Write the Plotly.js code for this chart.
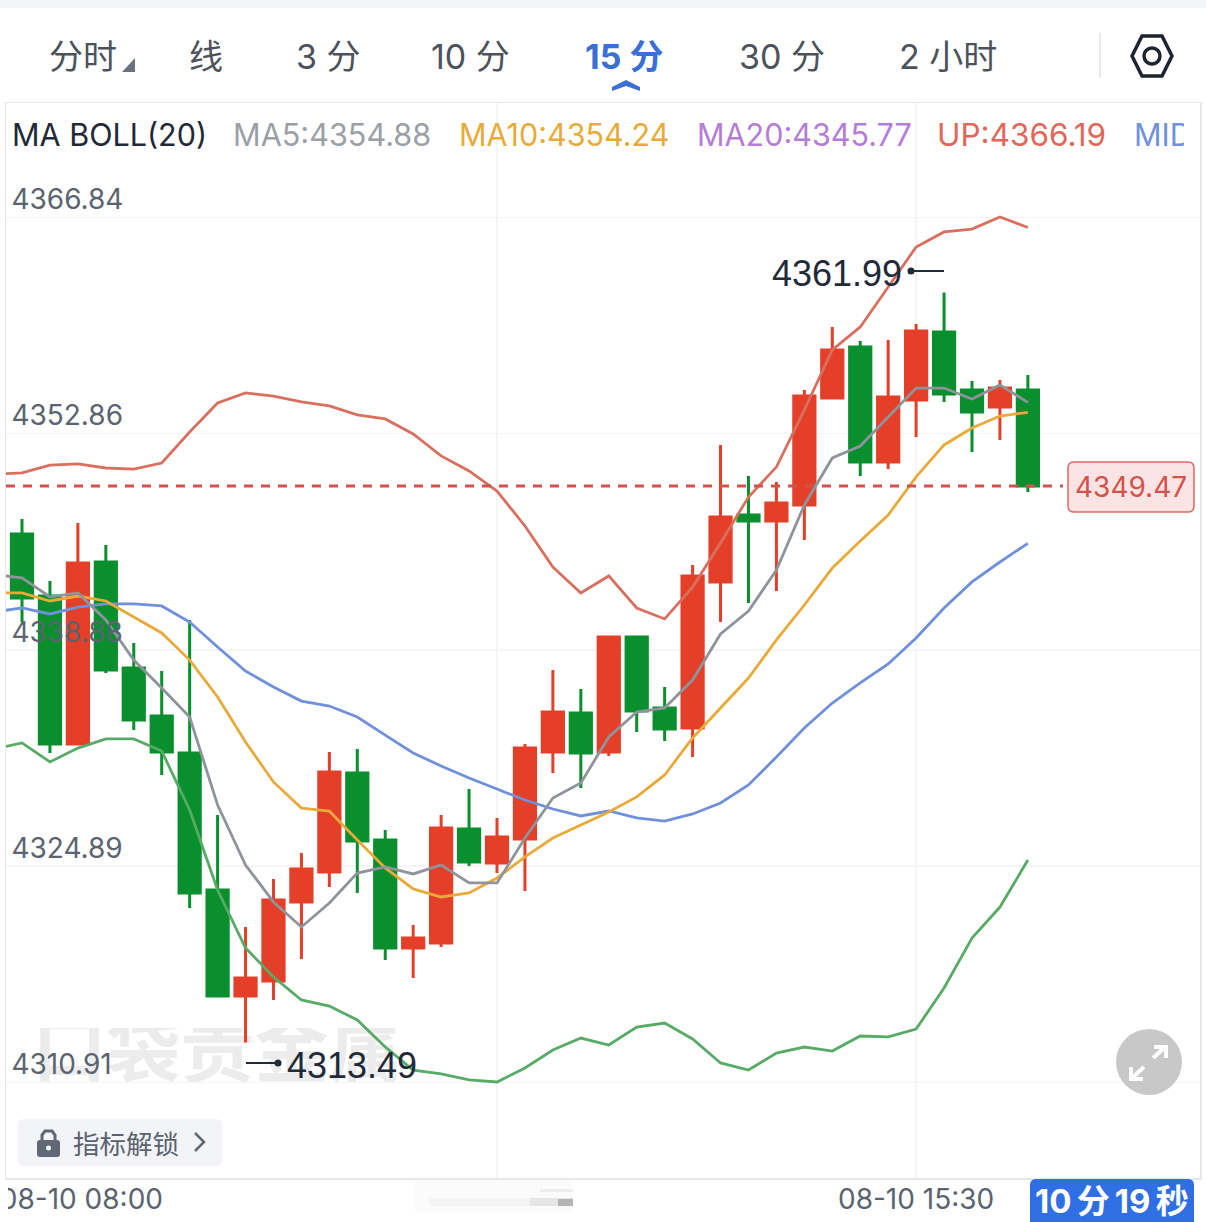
<!DOCTYPE html>
<html>
<head>
<meta charset="utf-8">
<script src="https://cdn.plot.ly/plotly-3.0.1.min.js"></script>
<style>
  html, body { margin: 0; padding: 0; background: #fff; overflow: hidden; }
  #chart { width: 1206px; height: 1222px; }
</style>
</head>
<body>
<div id="chart"></div>
<script>
// 15 minute bars, first entry only feeds the indicator lines
const times = ['08-10 07:15','08-10 07:30','08-10 07:45','08-10 08:00','08-10 08:15','08-10 08:30','08-10 08:45','08-10 09:00','08-10 09:15','08-10 09:30','08-10 09:45','08-10 10:00','08-10 10:15','08-10 10:30','08-10 10:45','08-10 11:00','08-10 11:15','08-10 11:30','08-10 11:45','08-10 12:00','08-10 12:15','08-10 12:30','08-10 12:45','08-10 13:00','08-10 13:15','08-10 13:30','08-10 13:45','08-10 14:00','08-10 14:15','08-10 14:30','08-10 14:45','08-10 15:00','08-10 15:15','08-10 15:30','08-10 15:45','08-10 16:00','08-10 16:15','08-10 16:30'];

const open = [4346.37,4342.36,4332.79,4344.56,4337.71,4334.60,4332.21,4323.35,4316.50,4317.47,4322.58,4324.52,4330.92,4326.59,4319.60,4319.93,4327.30,4325.10,4326.65,4332.28,4334.80,4332.28,4339.71,4335.12,4333.83,4343.27,4347.60,4347.21,4348.25,4355.17,4358.46,4351.03,4355.04,4359.43,4355.68,4354.58,4355.68];
const high = [4347.34,4343.33,4347.08,4345.66,4339.32,4337.51,4340.81,4328.20,4320.96,4324.06,4325.75,4332.28,4332.47,4327.23,4321.09,4328.20,4329.88,4328.01,4332.79,4337.58,4336.35,4339.71,4339.78,4336.48,4344.37,4352.13,4350.12,4349.73,4355.68,4359.76,4358.85,4358.92,4359.95,4361.99,4356.26,4356.33,4356.65];
const low = [4340.68,4332.21,4332.79,4337.38,4333.70,4330.79,4322.19,4316.50,4313.49,4316.24,4318.89,4323.55,4323.16,4318.83,4317.66,4319.67,4324.90,4324.45,4323.29,4330.92,4329.95,4332.02,4333.57,4332.99,4331.95,4340.68,4341.91,4342.69,4345.98,4355.10,4350.12,4350.57,4352.64,4354.91,4351.67,4352.45,4349.09];
const close = [4342.23,4332.79,4344.50,4337.58,4334.34,4332.28,4323.16,4316.50,4317.66,4322.71,4324.71,4330.98,4326.52,4319.60,4320.25,4327.36,4325.16,4326.78,4332.53,4334.86,4332.21,4339.71,4334.93,4333.76,4343.66,4347.47,4347.21,4348.38,4355.29,4358.27,4351.03,4355.23,4359.50,4355.42,4354.26,4355.81,4349.47];

const ma5 = [4343.75,4343.53,4342.30,4342.56,4340.81,4338.22,4336.41,4334.54,4328.85,4324.97,4322.58,4320.96,4322.51,4324.45,4324.84,4324.39,4324.97,4323.81,4323.81,4326.71,4329.30,4330.27,4333.25,4334.86,4335.12,4336.93,4339.91,4341.39,4344.04,4348.25,4351.29,4352.06,4353.94,4355.81,4355.81,4355.10,4356.01,4354.88];
const ma10 = [4342.56,4342.56,4342.04,4342.36,4342.04,4341.00,4339.97,4338.22,4335.83,4332.92,4330.34,4328.65,4328.46,4326.59,4324.78,4323.42,4322.90,4323.16,4324.13,4325.49,4326.71,4327.56,4328.40,4329.37,4330.79,4333.18,4335.12,4337.06,4339.52,4341.78,4344.17,4345.92,4347.60,4350.06,4352.13,4353.23,4354.00,4354.24];
const ma20 = [4341.33,4341.59,4341.20,4341.65,4341.85,4341.85,4341.72,4340.68,4339.06,4337.51,4336.48,4335.57,4335.25,4334.54,4333.37,4332.21,4331.37,4330.59,4329.88,4329.17,4328.59,4328.14,4328.46,4328.01,4327.81,4328.27,4328.98,4330.14,4331.95,4333.83,4335.44,4336.74,4337.97,4339.65,4341.59,4343.27,4344.56,4345.77];
const up = [4350.25,4350.32,4350.83,4350.90,4350.64,4350.57,4350.96,4352.97,4354.84,4355.49,4355.29,4354.91,4354.65,4354.07,4353.81,4352.84,4351.42,4350.45,4349.15,4346.89,4344.24,4342.56,4343.66,4341.59,4340.88,4342.94,4345.79,4348.76,4350.70,4354.39,4358.27,4359.76,4362.34,4364.93,4365.90,4366.09,4366.87,4366.19];
const dn = [4332.47,4332.86,4331.63,4332.53,4333.12,4333.12,4332.34,4328.53,4323.35,4319.60,4317.73,4316.24,4315.85,4314.95,4313.20,4311.71,4311.46,4311.07,4310.94,4311.84,4313.01,4313.78,4313.33,4314.49,4314.75,4313.72,4312.17,4311.71,4312.81,4313.20,4312.94,4313.91,4313.85,4314.36,4317.02,4320.25,4322.25,4325.29];

const priceTicks = [4310.91,4324.89,4338.88,4352.86,4366.84];
const timeTicks = ['08-10 08:00','08-10 11:45','08-10 15:30'];
const lastPrice = 4349.47;
const tabs = ['分时','线','3 分','10 分','15 分','30 分','2 小时'];
const tabCenters = [83,206,328,470,624,782,948];

const W = 1206, H = 1222;
const L = 6, R = 1200, T = 103, B = 1178;
const FONT = 'Inter, "Noto Sans CJK SC", sans-serif';
const CJK = '"Noto Sans CJK SC", sans-serif';
const ARIAL = '"Liberation Sans", sans-serif';
const BLUE = '#3b6fd8';

const px = (x) => (x - L) / (R - L);
const py = (y) => (B - y) / (B - T);

// text placed by page pixel
const label = (text, x, y, size, color, extra) => Object.assign({
  text, x: px(x), y: py(y), xref: 'paper', yref: 'paper',
  xanchor: 'left', yanchor: 'middle', showarrow: false,
  font: { family: FONT, size, color },
}, extra);

const poly = (pts, closed) =>
  pts.map((p, i) => (i ? 'L' : 'M') + px(p[0]) + ',' + py(p[1])).join(' ') + (closed ? ' Z' : '');

const roundRect = (x0, y0, x1, y1, r) => [
  'M', px(x0 + r), py(y0),
  'L', px(x1 - r), py(y0), 'Q', px(x1), py(y0), px(x1), py(y0 + r),
  'L', px(x1), py(y1 - r), 'Q', px(x1), py(y1), px(x1 - r), py(y1),
  'L', px(x0 + r), py(y1), 'Q', px(x0), py(y1), px(x0), py(y1 - r),
  'L', px(x0), py(y0 + r), 'Q', px(x0), py(y0), px(x0 + r), py(y0), 'Z',
].join(' ');

const pathShape = (path, fill, stroke, width, layer) => ({
  type: 'path', xref: 'paper', yref: 'paper', path,
  fillcolor: fill || 'rgba(0,0,0,0)',
  line: { color: stroke || 'rgba(0,0,0,0)', width: width || 0 },
  layer: layer || 'above',
});

const rectShape = (x0, y0, x1, y1, fill, layer) => ({
  type: 'rect', xref: 'paper', yref: 'paper',
  x0: px(x0), x1: px(x1), y0: py(y0), y1: py(y1),
  fillcolor: fill, line: { width: 0 }, layer: layer || 'above',
});

const circleShape = (cx, cy, r, fill, stroke, width) => ({
  type: 'circle', xref: 'paper', yref: 'paper',
  x0: px(cx - r), x1: px(cx + r), y0: py(cy + r), y1: py(cy - r),
  fillcolor: fill, line: { color: stroke || 'rgba(0,0,0,0)', width: width || 0 }, layer: 'above',
});

const lineShape = (x0, y0, x1, y1, color, width) => ({
  type: 'line', xref: 'paper', yref: 'paper',
  x0: px(x0), x1: px(x1), y0: py(y0), y1: py(y1),
  line: { color, width }, layer: 'above',
});

const lineTrace = (y, color) => ({
  x: times, y, type: 'scatter', mode: 'lines',
  line: { color, width: 2.8 }, hoverinfo: 'skip',
});

const traces = [
  {
    type: 'candlestick',
    x: times.slice(1),
    open, high, low, close,
    increasing: { line: { color: '#e43f28', width: 3 }, fillcolor: '#e43f28' },
    decreasing: { line: { color: '#0a8f2f', width: 3 }, fillcolor: '#0a8f2f' },
    hoverinfo: 'skip',
  },
  lineTrace(up, '#d9705f'),
  lineTrace(dn, '#58ab66'),
  lineTrace(ma20, '#7090dc'),
  lineTrace(ma10, '#e9aa3a'),
  lineTrace(ma5, '#8f949c'),
];

const shapes = [
  // watermark sits under the candles, top and bottom of the glyphs are cut off
  {
    type: 'rect', xref: 'paper', yref: 'paper', layer: 'below',
    x0: px(30), x1: px(405), y0: py(1090), y1: py(1020), line: { width: 0 }, fillcolor: 'rgba(0,0,0,0)',
    label: { text: '口袋贵金属', textposition: 'middle center', font: { family: CJK, size: 74, color: '#ececed', weight: 700 } },
  },
  rectShape(25, 1000, 410, 1028, '#ffffff', 'below'),
  rectShape(25, 1082, 410, 1105, '#ffffff', 'below'),
  rectShape(0, 0, W, 8, '#f4f5f9'),
  // last price
  {
    type: 'line', xref: 'paper', yref: 'y', x0: 0, x1: px(1063), y0: lastPrice, y1: lastPrice,
    line: { color: '#d4524c', width: 3, dash: '9px,8px' }, layer: 'above',
  },
  pathShape(roundRect(1068, 462, 1194, 512, 6), '#fbe4e3', '#dd6a66', 1.5),
  // high and low markers
  lineShape(911, 271, 944, 271, '#1f2a3a', 2),
  circleShape(911, 271, 3.5, '#1f2a3a'),
  lineShape(246, 1063, 278, 1063, '#1f2a3a', 2),
  circleShape(278, 1063, 3.5, '#1f2a3a'),
  // toolbar bits
  pathShape(poly([[135, 58], [135, 72], [122, 72]], true), '#6b7280'),
  pathShape(poly([[612, 87], [626, 80], [640, 87], [640, 91], [626, 86], [612, 91]], true), BLUE),
  lineShape(1100, 33, 1100, 78, '#e9eaed', 2),
  pathShape(poly([[1142, 36], [1162, 36], [1172, 56], [1162, 76], [1142, 76], [1132, 56]], true), null, '#1d2430', 3.5),
  circleShape(1152, 56, 8, 'rgba(0,0,0,0)', '#1d2430', 3.5),
  // lock button
  pathShape(roundRect(18, 1119, 222, 1166, 6), '#f3f4f7'),
  pathShape(roundRect(37, 1140, 60, 1157, 3), '#5f6874'),
  pathShape(poly([[42, 1141], [42, 1135], [45, 1131], [52, 1131], [55, 1135], [55, 1141]]), null, '#5f6874', 3),
  circleShape(48.5, 1148, 2.5, '#f3f4f7'),
  pathShape(poly([[195, 1133], [204, 1142], [195, 1151]]), null, '#5f6874', 2.5),
  // fullscreen button
  circleShape(1149, 1062, 33, '#c8c8c8'),
  pathShape(poly([[1153, 1058], [1165, 1047]]), null, '#ffffff', 4),
  pathShape(poly([[1154, 1047], [1166, 1047], [1166, 1058]]), null, '#ffffff', 4),
  pathShape(poly([[1144, 1067], [1132, 1078]]), null, '#ffffff', 4),
  pathShape(poly([[1131, 1067], [1131, 1079], [1143, 1079]]), null, '#ffffff', 4),
  // smudged label in the time axis
  rectShape(415, 1180, 573, 1212, '#fbfbfb'),
  rectShape(430, 1198, 573, 1206, '#f3f3f3'),
  rectShape(530, 1198, 573, 1206, '#e6e6e6'),
  rectShape(558, 1199, 573, 1206, '#b4b4b6'),
  rectShape(540, 1189, 573, 1192, '#eeeeee'),
  // countdown
  pathShape(roundRect(1030, 1179, 1194, 1236, 6), '#2f6fe3'),
];

const annotations = [
  label('MA BOLL(20)', 10, 134, 30.5, '#1f2937'),
  label('MA5:4354.88', 231, 134, 30.6, '#9aa0a8'),
  label('MA10:4354.24', 457, 134, 30.5, '#e8ab3a'),
  label('MA20:4345.77', 695, 134, 30.5, '#b57cd8'),
  label('UP:4366.19', 935, 134, 31.5, '#e0675a'),
  label('MID', 1132, 134, 30.5, '#6f92dc', { width: 50, align: 'left' }),
  label('4361.99', 770, 273, 36, '#1f2a3a', { font: { family: ARIAL, size: 36, color: '#1f2a3a' } }),
  label('4313.49', 285, 1065, 36, '#1f2a3a', { font: { family: ARIAL, size: 36, color: '#1f2a3a' } }),
  label('4349.47', 1131, 487, 28, '#d4524c', { xanchor: 'center' }),
  label('指标解锁', 71, 1142, 26.5, '#5a6270', { font: { family: CJK, size: 26.5, color: '#5a6270' } }),
  label('10\u2009分\u200919\u2009秒', 1112, 1201, 33, '#ffffff', { xanchor: 'center', font: { family: FONT, size: 33, color: '#ffffff', weight: 700 } }),
  // time axis labels, the first one runs off the left edge of the frame
  label('08-10 08:00', 6, 1199, 28, '#5a6370', { width: 155, align: 'right' }),
  label('08-10 15:30', 916, 1199, 28, '#5a6370', { xanchor: 'center' }),
].concat(tabs.map((t, i) => label(t, tabCenters[i], 56, 34, t === '15 分' ? BLUE : '#4b525c', {
  xanchor: 'center',
  font: { family: FONT, size: 34, color: t === '15 分' ? BLUE : '#4b525c', weight: t === '15 分' ? 700 : 400 },
})));

const layout = {
  width: W, height: H,
  margin: { l: L, r: W - R, t: T, b: H - B, pad: 0 },
  paper_bgcolor: '#ffffff', plot_bgcolor: '#ffffff',
  showlegend: false, hovermode: false, dragmode: false,
  boxmode: 'group', boxgap: 0.24, boxgroupgap: 0,
  font: { family: FONT },
  xaxis: {
    type: 'category', categoryorder: 'array', categoryarray: times,
    range: [0.427, 43.16], fixedrange: true,
    rangeslider: { visible: false },
    tickmode: 'array', tickvals: timeTicks, showticklabels: false,
    ticks: '', automargin: false,
    showgrid: true, gridcolor: '#f5f5f6', gridwidth: 1.5, zeroline: false,
    showline: true, mirror: true, linecolor: '#e6e7ea', linewidth: 1.5,
  },
  yaxis: {
    range: [4304.73, 4374.24], fixedrange: true,
    tickmode: 'array', tickvals: priceTicks, tickformat: '.2f',
    ticklabelposition: 'inside', ticklabelshift: -18, ticklabelstandoff: 8,
    ticks: '', tickfont: { family: FONT, size: 28, color: '#5a6370' },
    showgrid: true, gridcolor: '#f5f5f6', gridwidth: 1.5, zeroline: false,
    showline: true, mirror: true, linecolor: '#e6e7ea', linewidth: 1.5,
  },
  shapes, annotations,
};

Plotly.newPlot('chart', traces, layout, { displayModeBar: false, staticPlot: true });
</script>
</body>
</html>
